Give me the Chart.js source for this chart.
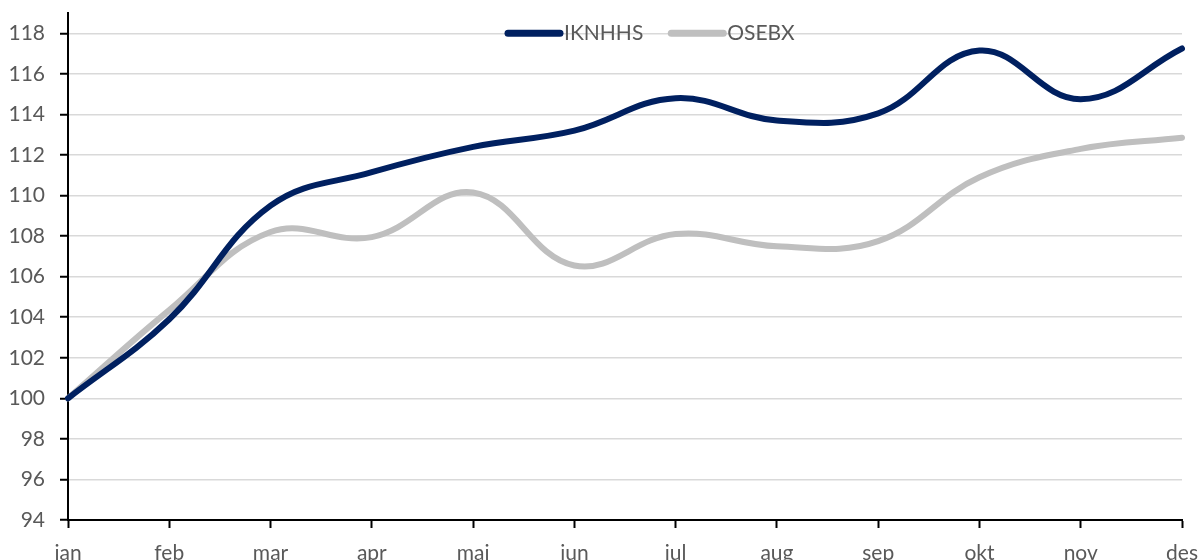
<!DOCTYPE html>
<html>
<head>
<meta charset="utf-8">
<script src="https://cdn.jsdelivr.net/npm/chart.js@4.4.0/dist/chart.umd.min.js"></script>
<style>
  html, body { margin: 0; padding: 0; background: #fff; }
  #wrap { width: 1201px; height: 560px; }
</style>
</head>
<body>
<div id="wrap"><canvas id="chart" width="1201" height="560"></canvas></div>
<script>
// Month labels and index values
const months = ['jan', 'feb', 'mar', 'apr', 'mai', 'jun', 'jul', 'aug', 'sep', 'okt', 'nov', 'des'];
const iknhhs = [100, 103.9, 109.5, 111.15, 112.4, 113.2, 114.8, 113.7, 114.05, 117.15, 114.75, 117.25];
const osebx = [100, 104.35, 108.2, 107.95, 110.15, 106.55, 108.1, 107.5, 107.75, 110.9, 112.3, 112.85];
const yTicks = [94, 96, 98, 100, 102, 104, 106, 108, 110, 112, 114, 116, 118];

const textColor = '#595959';
const fontFamily = 'Lato, "Open Sans", sans-serif';

// Legend sits inside the plot, on the 118 gridline
const overlayLegend = {
    id: 'overlayLegend',
    afterDraw(chart) {
        const ctx = chart.ctx;
        const y = chart.scales.y.getPixelForValue(118);
        let x = 505;
        ctx.save();
        ctx.font = '21px ' + fontFamily;
        ctx.textBaseline = 'middle';
        chart.data.datasets.forEach(ds => {
            ctx.strokeStyle = ds.borderColor;
            ctx.lineWidth = 7;
            ctx.lineCap = 'round';
            ctx.beginPath();
            ctx.moveTo(x + 3, y);
            ctx.lineTo(x + 55, y);
            ctx.stroke();
            x += 59;
            ctx.fillStyle = textColor;
            ctx.fillText(ds.label, x, y);
            x += ctx.measureText(ds.label).width + 25;
        });
        ctx.restore();
    }
};

new Chart(document.getElementById('chart'), {
    type: 'line',
    data: {
        labels: months,
        datasets: [
            {
                label: 'IKNHHS',
                data: iknhhs,
                borderColor: '#002060',
                borderWidth: 6,
                tension: 0.4,
                pointRadius: 0,
                borderCapStyle: 'round',
                fill: false
            },
            {
                label: 'OSEBX',
                data: osebx,
                borderColor: '#bfbfbf',
                borderWidth: 6,
                tension: 0.4,
                pointRadius: 0,
                borderCapStyle: 'round',
                fill: false
            }
        ]
    },
    options: {
        responsive: false,
        animation: false,
        layout: {
            padding: { top: 13, right: 19, left: 0, bottom: 0 }
        },
        plugins: {
            legend: { display: false },
            tooltip: { enabled: false }
        },
        scales: {
            x: {
                offset: false,
                grid: {
                    drawOnChartArea: false,
                    drawTicks: true,
                    tickLength: 8,
                    tickColor: '#000',
                    tickWidth: 2
                },
                border: { color: '#000', width: 2 },
                ticks: {
                    color: textColor,
                    font: { family: fontFamily, size: 21 },
                    padding: 13,
                    maxRotation: 0,
                    autoSkip: false
                },
                afterFit(scale) {
                    scale.height = 40;
                    scale.paddingLeft = 0;
                    scale.paddingRight = 0;
                }
            },
            y: {
                min: 94,
                max: 119,
                afterBuildTicks(scale) {
                    scale.ticks = yTicks.map(v => ({ value: v }));
                },
                grid: {
                    color: '#d9d9d9',
                    lineWidth: 1.5,
                    drawTicks: true,
                    tickLength: 8,
                    tickColor: '#000',
                    tickWidth: 2
                },
                border: { color: '#000', width: 2 },
                ticks: {
                    color: textColor,
                    font: { family: fontFamily, size: 21 },
                    padding: 15
                },
                afterFit(scale) {
                    scale.width = 68;
                    scale.paddingTop = 0;
                    scale.paddingBottom = 0;
                }
            }
        }
    },
    plugins: [overlayLegend]
});
</script>
</body>
</html>
